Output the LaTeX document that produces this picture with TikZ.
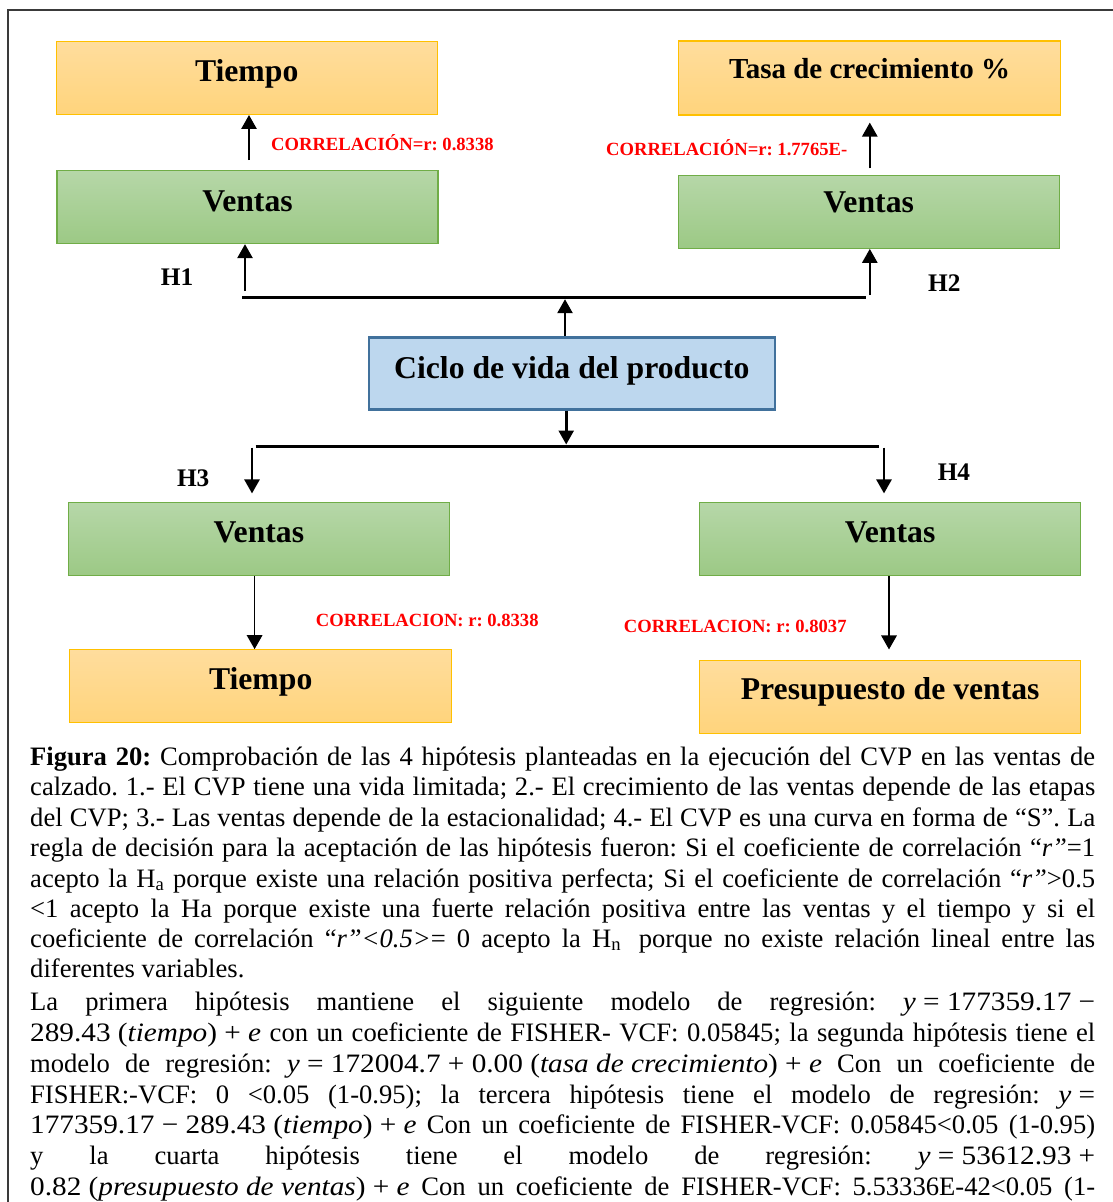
\documentclass[tikz,border=0pt]{standalone}
\usepackage{fontspec}
\setmainfont{Liberation Serif}
\newfontfamily\eqfont[FakeStretch=1.1]{Liberation Serif}
\usetikzlibrary{arrows.meta,calc}

\definecolor{orTop}{HTML}{FFDD9D}
\definecolor{orBot}{HTML}{FFD47C}
\definecolor{orLine}{HTML}{FFC000}
\definecolor{grTop}{HTML}{B6D7A8}
\definecolor{grBot}{HTML}{9CC985}
\definecolor{grLine}{HTML}{70AD47}
\definecolor{blFill}{HTML}{BDD7EE}
\definecolor{blLine}{HTML}{41719C}
\definecolor{frameC}{HTML}{3A3A3A}

\frenchspacing
\newcommand\jline[1]{\makebox[1065pt][s]{#1}}
\newcommand\eqpart[1]{\mbox{\eqfont #1}}

\tikzset{
  boxbase/.style={rectangle, inner sep=0pt, minimum width=381pt, minimum height=73pt,
    font=\fontsize{31.7}{36}\selectfont\bfseries, text height=21pt, text depth=15pt},
  orbox/.style={boxbase, draw=orLine, line width=1.3pt, top color=orTop, bottom color=orBot},
  grbox/.style={boxbase, draw=grLine, line width=1.3pt, top color=grTop, bottom color=grBot},
  thickarr/.style={line width=2.6pt, -{Triangle[width=15pt,length=14pt]}},
  thinarr/.style={line width=1.5pt, -{Triangle[width=15.5pt,length=14pt]}},
  busline/.style={line width=3pt},
  redlab/.style={anchor=base west, inner sep=0pt, text=red, font=\fontsize{18.6}{22}\selectfont\bfseries},
  hlab/.style={anchor=base west, inner sep=0pt, font=\fontsize{25.3}{30}\selectfont\bfseries},
  capline/.style={anchor=base west, inner sep=0pt, font=\fontsize{26.6}{30.5}\selectfont\frenchspacing},
}

\begin{document}
\begin{tikzpicture}[x=1pt, y=-1pt]
\useasboundingbox (0,0) rectangle (1113,1202);
\clip (0,0) rectangle (1113,1202);
\fill[white] (0,0) rectangle (1113,1202);
\draw[line width=1.4pt, draw=frameC] (8,10) rectangle (1130,1230);

% boxes
\node[orbox, text depth=13pt] (t1) at (246.7,77.8) {Tiempo};
\node[grbox, text depth=13pt] (v1) at (247.5,207) {Ventas};
\node[orbox, minimum width=382pt, minimum height=74pt, font=\fontsize{29}{33}\selectfont\bfseries,
      text height=20pt, text depth=18pt] (t2) at (869.6,77.9) {Tasa de crecimiento \%};
\node[grbox, text depth=19pt] (v2) at (868.7,211.7) {Ventas};
\node[rectangle, draw=blLine, line width=2.5pt, fill=blFill, minimum width=406pt, minimum height=72pt,
      inner sep=0pt, font=\fontsize{31.7}{36}\selectfont\bfseries, text height=21pt, text depth=10pt]
      (c) at (571.8,373.3) {Ciclo de vida del producto};
\node[grbox] (v3) at (258.9,539.3) {Ventas};
\node[orbox, minimum width=382pt] (t3) at (260.7,686.3) {Tiempo};
\node[grbox] (v4) at (890.1,539.3) {Ventas};
\node[orbox, text depth=16pt] (p4) at (890.2,697.3) {Presupuesto de ventas};

% bus lines
\coordinate (bt1) at (242,297.7);
\coordinate (bt2) at (866,297.7);
\draw[busline] (bt1) -- (bt2);
\coordinate (bb1) at (255.7,446);
\coordinate (bb2) at (879,446);
\draw[busline] (bb1) -- (bb2);

% arrows top
\coordinate (a1s) at (249,160);
\draw[thickarr] (a1s) -- (a1s |- t1.south);
\coordinate (h1s) at (245,291);
\draw[thickarr] (h1s) -- (h1s |- v1.south);
\coordinate (a2s) at (869.8,168.3);
\draw[thickarr] (a2s) -- ($(a2s |- t2.south)+(0,7)$);
\coordinate (h2s) at (869.8,295);
\draw[thickarr] (h2s) -- (h2s |- v2.south);
\coordinate (cx1) at (565,0);
\draw[thickarr] (cx1 |- c.north) -- ($(cx1 |- bt1)+(0,1.5)$);
\coordinate (cx2) at (566.2,0);
\draw[thickarr] (cx2 |- c.south) -- ($(cx2 |- bb1)+(0,-1.5)$);

% arrows bottom
\coordinate (h3s) at (252,447.7);
\draw[thickarr] (h3s) -- ($(h3s |- v3.north)+(0,-8.7)$);
\coordinate (h4s) at (884,447.7);
\draw[thickarr] (h4s) -- ($(h4s |- v4.north)+(0,-8.7)$);
\coordinate (a3x) at (254.6,0);
\draw[thinarr] (a3x |- v3.south) -- (a3x |- t3.north);
\coordinate (a4x) at (889,0);
\draw[thinarr] (a4x |- v4.south) -- ($(a4x |- p4.north)+(0,-10.7)$);

% labels
\node[redlab] (l1) at (271,150.7) {CORRELACIÓN=r: 0.8338};
\node[redlab] (l2) at (606,155.7) {CORRELACIÓN=r: 1.7765E-};
\node[redlab] (l3) at (315.7,626.7) {CORRELACION: r: 0.8338};
\node[redlab] (l4) at (623.7,632.7) {CORRELACION: r: 0.8037};
\node[hlab] (H1) at (160.7,285.7) {H1};
\node[hlab] (H2) at (928,291.7) {H2};
\node[hlab] (H3) at (176.8,486.7) {H3};
\node[hlab] (H4) at (937.6,480) {H4};

% caption
\node[capline] (c1) at (30,765) {\jline{\textbf{Figura 20:} Comprobación de las 4 hipótesis planteadas en la ejecución del CVP en las ventas de}};
\node[capline] (c2) at (30,795.5) {\jline{calzado. 1.- El CVP tiene una vida limitada; 2.- El crecimiento de las ventas depende de las etapas}};
\node[capline] (c3) at (30,826) {\jline{del CVP; 3.- Las ventas depende de la estacionalidad; 4.- El CVP es una curva en forma de “S”. La}};
\node[capline] (c4) at (30,856.3) {\jline{regla de decisión para la aceptación de las hipótesis fueron: Si el coeficiente de correlación “\textit{r”}=1}};
\node[capline] (c5) at (30,887) {\jline{acepto la H\textsubscript{a} porque existe una relación positiva perfecta; Si el coeficiente de correlación “\textit{r”}>0.5}};
\node[capline] (c6) at (30,917) {\jline{<1 acepto la Ha porque existe una fuerte relación positiva entre las ventas y el tiempo y si el}};
\node[capline] (c7) at (30,947) {\jline{coeficiente de correlación “\textit{r”<0.5>}= 0 acepto la H\textsubscript{n}\hspace{0.25em} porque no existe relación lineal entre las}};
\node[capline] (c8) at (30,977.3) {diferentes variables.};
\node[capline] (c9) at (30,1010.7) {\jline{La primera hipótesis mantiene el siguiente modelo de regresión: \eqpart{\textit{y} = 177359.17 −}}};
\node[capline] (c10) at (30,1041.7) {\jline{\eqpart{289.43 (\textit{tiempo}) + \textit{e}} con un coeficiente de FISHER- VCF: 0.05845; la segunda hipótesis tiene el}};
\node[capline] (c11) at (30,1072) {\jline{modelo de regresión: \eqpart{\textit{y} = 172004.7 + 0.00 (\textit{tasa de crecimiento}) + \textit{e}} Con un coeficiente de}};
\node[capline] (c12) at (30,1103) {\jline{FISHER:-VCF: 0 <0.05 (1-0.95); la tercera hipótesis tiene el modelo de regresión: \eqpart{\textit{y} =}}};
\node[capline] (c13) at (30,1133.5) {\jline{\eqpart{177359.17 − 289.43 (\textit{tiempo}) + \textit{e}} Con un coeficiente de FISHER-VCF: 0.05845<0.05 (1-0.95)}};
\node[capline] (c14) at (30,1164) {\jline{y la cuarta hipótesis tiene el modelo de regresión: \eqpart{\textit{y} = 53612.93 +}}};
\node[capline] (c15) at (30,1195) {\jline{\eqpart{0.82 (\textit{presupuesto de ventas}) + \textit{e}} Con un coeficiente de FISHER-VCF: 5.53336E-42<0.05 (1-}};
\end{tikzpicture}
\end{document}
